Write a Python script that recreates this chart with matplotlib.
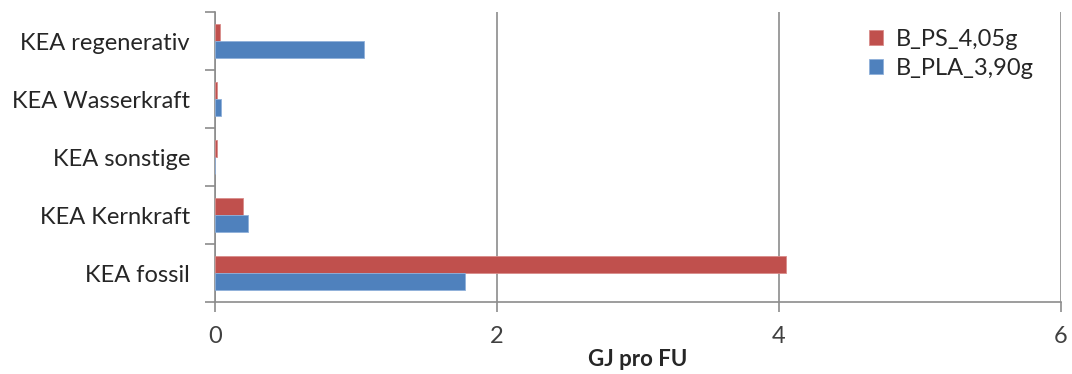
import matplotlib.pyplot as plt
import numpy as np

plt.rcParams['font.family'] = ['Lato', 'DejaVu Sans']

categories = ["KEA fossil", "KEA Kernkraft", "KEA sonstige", "KEA Wasserkraft", "KEA regenerativ"]
ps_values = [4.05, 0.20, 0.014, 0.014, 0.033]
pla_values = [1.77, 0.235, 0.002, 0.043, 1.06]
series_names = ["B_PS_4,05g", "B_PLA_3,90g"]

red = "#C0504D"
blue = "#4F81BD"
grey = "#8C8C8C"

fig = plt.figure(figsize=(10.72, 3.74), dpi=100)
ax = fig.add_axes([215 / 1072, 1 - 302 / 374, (1061 - 215) / 1072, (302 - 12) / 374])

y = np.arange(len(categories))
h = 0.285
ax.barh(y + h / 2, ps_values, height=h, color=red, edgecolor="#D98C8A", linewidth=0.6,
        label=series_names[0], zorder=3)
ax.barh(y - h / 2, pla_values, height=h, color=blue, edgecolor="#8FB0DA", linewidth=0.6,
        label=series_names[1], zorder=3)

ax.set_xlim(0, 6)
ax.set_ylim(-0.5, len(categories) - 0.5)
ax.set_xticks([0, 2, 4, 6])
ax.set_xticklabels(["0", "2", "4", "6"], fontsize=17, color="#404040")
ax.set_yticks(y)
ax.set_yticklabels(categories, fontsize=17, color="#262626")
ax.set_yticks(np.arange(-0.5, len(categories)), minor=True)
ax.tick_params(axis="y", which="major", length=0, pad=18)
ax.tick_params(axis="y", which="minor", length=7, color=grey, width=1.2)
ax.tick_params(axis="x", length=7, color=grey, width=1.2, pad=10)

ax.grid(axis="x", color=grey, linewidth=1.2, zorder=0)
for s in ["top", "right"]:
    ax.spines[s].set_visible(False)
for s in ["left", "bottom"]:
    ax.spines[s].set_color(grey)
    ax.spines[s].set_linewidth(1.2)

ax.set_xlabel("GJ pro FU", fontsize=16, fontweight="bold", color="#262626", labelpad=2)

ax.legend(loc="upper left", bbox_to_anchor=(0.748, 1.015), frameon=False, fontsize=17,
          handlelength=0.6, handleheight=0.6, handletextpad=0.55, labelspacing=0.35,
          labelcolor="#262626")

fig.savefig("out.png", dpi=100)
